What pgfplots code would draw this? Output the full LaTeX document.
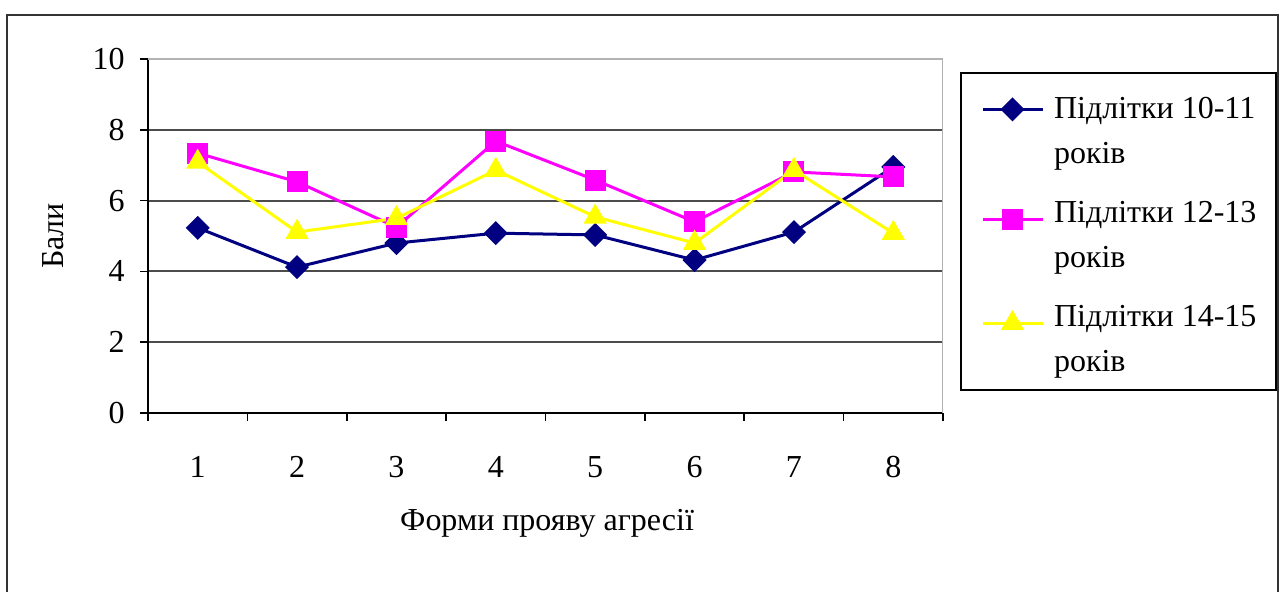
\documentclass[border=0pt]{standalone}
\usepackage{fontspec}
\setmainfont{Liberation Serif}
\usepackage{pgfplots}
\pgfplotsset{compat=1.18}
\definecolor{sNavy}{RGB}{0,0,128}
\definecolor{sMag}{RGB}{255,0,255}
\definecolor{sYel}{RGB}{255,255,0}
\begin{document}
\fontsize{16}{22.5}\selectfont
\begin{tikzpicture}
\useasboundingbox (0,0) rectangle (641pt,296pt);
\draw[line width=1pt, black!80] (3.5pt,-2pt) -- (3.5pt,288.5pt) -- (639pt,288.5pt) -- (639pt,-2pt);
\begin{axis}[
  at={(74pt,89.5pt)}, anchor=south west,
  scale only axis, width=397.5pt, height=177pt,
  xmin=0.5, xmax=8.5, ymin=0, ymax=10,
  axis x line*=bottom, axis y line*=left,
  axis line style={black, line width=1pt, -},
  xtick={1,...,8},
  minor xtick={0.5,1.5,...,8.5},
  major x tick style={draw=none},
  ytick={0,2,...,8},
  extra y ticks={10},
  extra y tick style={grid style={gray!60, line width=0.6pt}},
  ymajorgrids,
  grid style={black!70, line width=1pt},
  tick align=outside,
  major tick length=4pt, minor tick length=4pt,
  tick style={black, line width=0.8pt},
  xtick pos=left, ytick pos=left,
  /pgf/number format/assume math mode=true,
  xticklabel style={anchor=center, yshift=-23pt},
  yticklabel style={anchor=east, inner sep=0pt, xshift=-7.5pt},
  xlabel={Форми прояву агресії},
  ylabel={Бали},
  xlabel style={at={(axis description cs:0.502,-0.311)}, anchor=center},
  ylabel style={at={(axis description cs:-0.119,0.5)}, anchor=center},
  legend style={at={(1.0214,0.9633)}, anchor=north west, draw=black, line width=1pt,
    inner xsep=10pt, inner ysep=6.5pt, row sep=16.5pt, column sep=5pt,
    nodes={inner sep=0pt, align=left}},
  legend cell align=left,
  legend image code/.code={\draw[mark repeat=2,mark phase=2,#1] plot coordinates {(0pt,9pt) (15pt,9pt) (30pt,9pt)};},
]
\draw[gray!60, line width=0.6pt] (rel axis cs:1,0) -- (rel axis cs:1,1);
\addplot[sNavy, line width=1.5pt, mark=square*, mark size=3.5pt, mark options={rotate=45, solid}]
  coordinates {(1,5.23)(2,4.12)(3,4.80)(4,5.08)(5,5.03)(6,4.32)(7,5.11)(8,6.95)};
\addlegendentry{\rule{0pt}{16.5pt}Підлітки 10-11\\років}
\addplot[sMag, line width=1.5pt, mark=square*, mark size=4.5pt, mark options={solid}]
  coordinates {(1,7.34)(2,6.53)(3,5.25)(4,7.68)(5,6.58)(6,5.40)(7,6.81)(8,6.67)};
\addlegendentry{Підлітки 12-13\\років}
\addplot[sYel, line width=1.5pt, mark=triangle*, mark size=5.2pt, mark options={solid}]
  coordinates {(1,7.09)(2,5.11)(3,5.50)(4,6.86)(5,5.54)(6,4.80)(7,6.86)(8,5.08)};
\addlegendentry{Підлітки 14-15\\років}
\end{axis}
\end{tikzpicture}
\end{document}
